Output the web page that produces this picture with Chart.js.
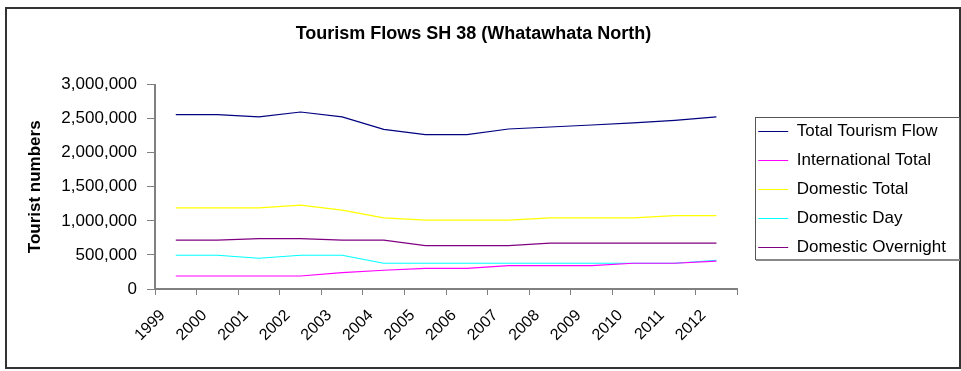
<!DOCTYPE html>
<html>
<head>
<meta charset="utf-8">
<script src="https://cdn.jsdelivr.net/npm/chart.js@4"></script>
<style>
  html, body { margin: 0; padding: 0; background: #fff; }
  #wrap { width: 961px; height: 371px; position: relative; }
</style>
</head>
<body>
<div id="wrap"><canvas id="chart"></canvas></div>
<script>
const YEARS = ['1999', '2000', '2001', '2002', '2003', '2004', '2005', '2006', '2007', '2008', '2009', '2010', '2011', '2012'];

const TOTAL_FLOW = [2560000, 2560000, 2525000, 2598000, 2525000, 2343000, 2265000, 2265000, 2348000, 2378000, 2407000, 2437000, 2475000, 2525000];
const INTERNATIONAL = [191000, 191000, 191000, 191000, 240000, 275000, 304000, 304000, 343000, 343000, 343000, 378000, 378000, 410000];
const DOMESTIC_TOTAL = [1191000, 1191000, 1191000, 1231000, 1157000, 1044000, 1010000, 1010000, 1010000, 1044000, 1044000, 1044000, 1078000, 1078000];
const DOMESTIC_DAY = [495000, 495000, 451000, 495000, 495000, 378000, 378000, 378000, 378000, 378000, 378000, 378000, 378000, 422000];
const DOMESTIC_OVERNIGHT = [716000, 716000, 740000, 740000, 716000, 716000, 637000, 637000, 637000, 672000, 672000, 672000, 672000, 672000];

const Y_MAX = 3000000;
const Y_STEP = 500000;

const FONT = 'Arial, "Liberation Sans", sans-serif';
const AXIS_GREY = '#808080';

// Excel-style frame round the whole chart and a box round the legend
const frames = {
    id: 'frames',
    afterLayout(chart) {
        // Excel leaves a small gap between plot area and legend
        chart.legend.left += 9;
        chart.legend.right += 9;
        chart.legend.top += 4;
        chart.legend.bottom += 4;
    },
    beforeDraw(chart) {
        const { ctx } = chart;
        ctx.save();
        ctx.fillStyle = '#fff';
        ctx.fillRect(0, 0, chart.width, chart.height);
        ctx.strokeStyle = '#333';
        ctx.lineWidth = 2;
        ctx.strokeRect(6, 8, 954, 360);
        ctx.restore();
    },
    afterDraw(chart) {
        const boxes = chart.legend.legendHitBoxes;
        if (!boxes || !boxes.length) return;
        const { ctx } = chart;
        const last = boxes[boxes.length - 1];
        const top = boxes[0].top - 6;
        const bottom = last.top + last.height + 3;
        ctx.save();
        ctx.strokeStyle = '#555';
        ctx.lineWidth = 1;
        ctx.strokeRect(755.5, top + 0.5, 204, bottom - top);
        ctx.strokeStyle = '#888';
        ctx.lineWidth = 2;
        ctx.beginPath();
        ctx.moveTo(756, bottom + 1);
        ctx.lineTo(960, bottom + 1);
        ctx.stroke();
        ctx.restore();
    }
};

const makeSeries = (label, data, color) => ({
    label: label,
    data: data,
    borderColor: color,
    backgroundColor: color,
    borderWidth: 1.2,
    pointRadius: 0,
    tension: 0,
    fill: false
});

new Chart(document.getElementById('chart').getContext('2d'), {
    type: 'line',
    plugins: [frames],
    data: {
        labels: YEARS,
        datasets: [
            makeSeries('Total Tourism Flow', TOTAL_FLOW, '#000080'),
            makeSeries('International Total', INTERNATIONAL, '#ff00ff'),
            makeSeries('Domestic Total', DOMESTIC_TOTAL, '#ffff00'),
            makeSeries('Domestic Day', DOMESTIC_DAY, '#00ffff'),
            makeSeries('Domestic Overnight', DOMESTIC_OVERNIGHT, '#800080')
        ]
    },
    options: {
        responsive: true,
        maintainAspectRatio: false,
        animation: false,
        layout: { padding: { left: 0, top: 0, right: 14, bottom: 0 } },
        plugins: {
            title: {
                display: true,
                text: 'Tourism Flows SH 38 (Whatawhata North)',
                color: '#000',
                font: { family: FONT, size: 18, weight: 'bold', lineHeight: 1.2 },
                padding: { top: 23, bottom: 40 }
            },
            legend: {
                position: 'right',
                labels: {
                    usePointStyle: true,
                    pointStyle: 'line',
                    pointStyleWidth: 30,
                    padding: 12,
                    color: '#000',
                    font: { family: FONT, size: 17 }
                }
            },
            tooltip: { enabled: false }
        },
        scales: {
            x: {
                type: 'category',
                offset: true,
                grid: {
                    offset: true,
                    drawOnChartArea: false,
                    drawTicks: true,
                    tickLength: 6,
                    color: AXIS_GREY
                },
                border: { color: AXIS_GREY, width: 2 },
                ticks: {
                    color: '#000',
                    font: { family: FONT, size: 16 },
                    minRotation: 45,
                    maxRotation: 45,
                    autoSkip: false,
                    padding: 11,
                    labelOffset: -13
                },
                afterFit(scale) { scale.height = 82; }
            },
            y: {
                min: 0,
                max: Y_MAX,
                grid: {
                    drawOnChartArea: false,
                    drawTicks: true,
                    tickLength: 8,
                    color: AXIS_GREY
                },
                border: { color: AXIS_GREY, width: 2 },
                ticks: {
                    stepSize: Y_STEP,
                    color: '#000',
                    font: { family: FONT, size: 17 },
                    padding: 10,
                    callback: (v) => v.toLocaleString('en-US')
                },
                title: {
                    display: true,
                    text: 'Tourist numbers',
                    color: '#000',
                    font: { family: FONT, size: 17, weight: 'bold', lineHeight: 1.2 },
                    padding: { top: 25, bottom: 0 }
                },
                afterFit(scale) { scale.width = 155; }
            }
        }
    }
});
</script>
</body>
</html>
